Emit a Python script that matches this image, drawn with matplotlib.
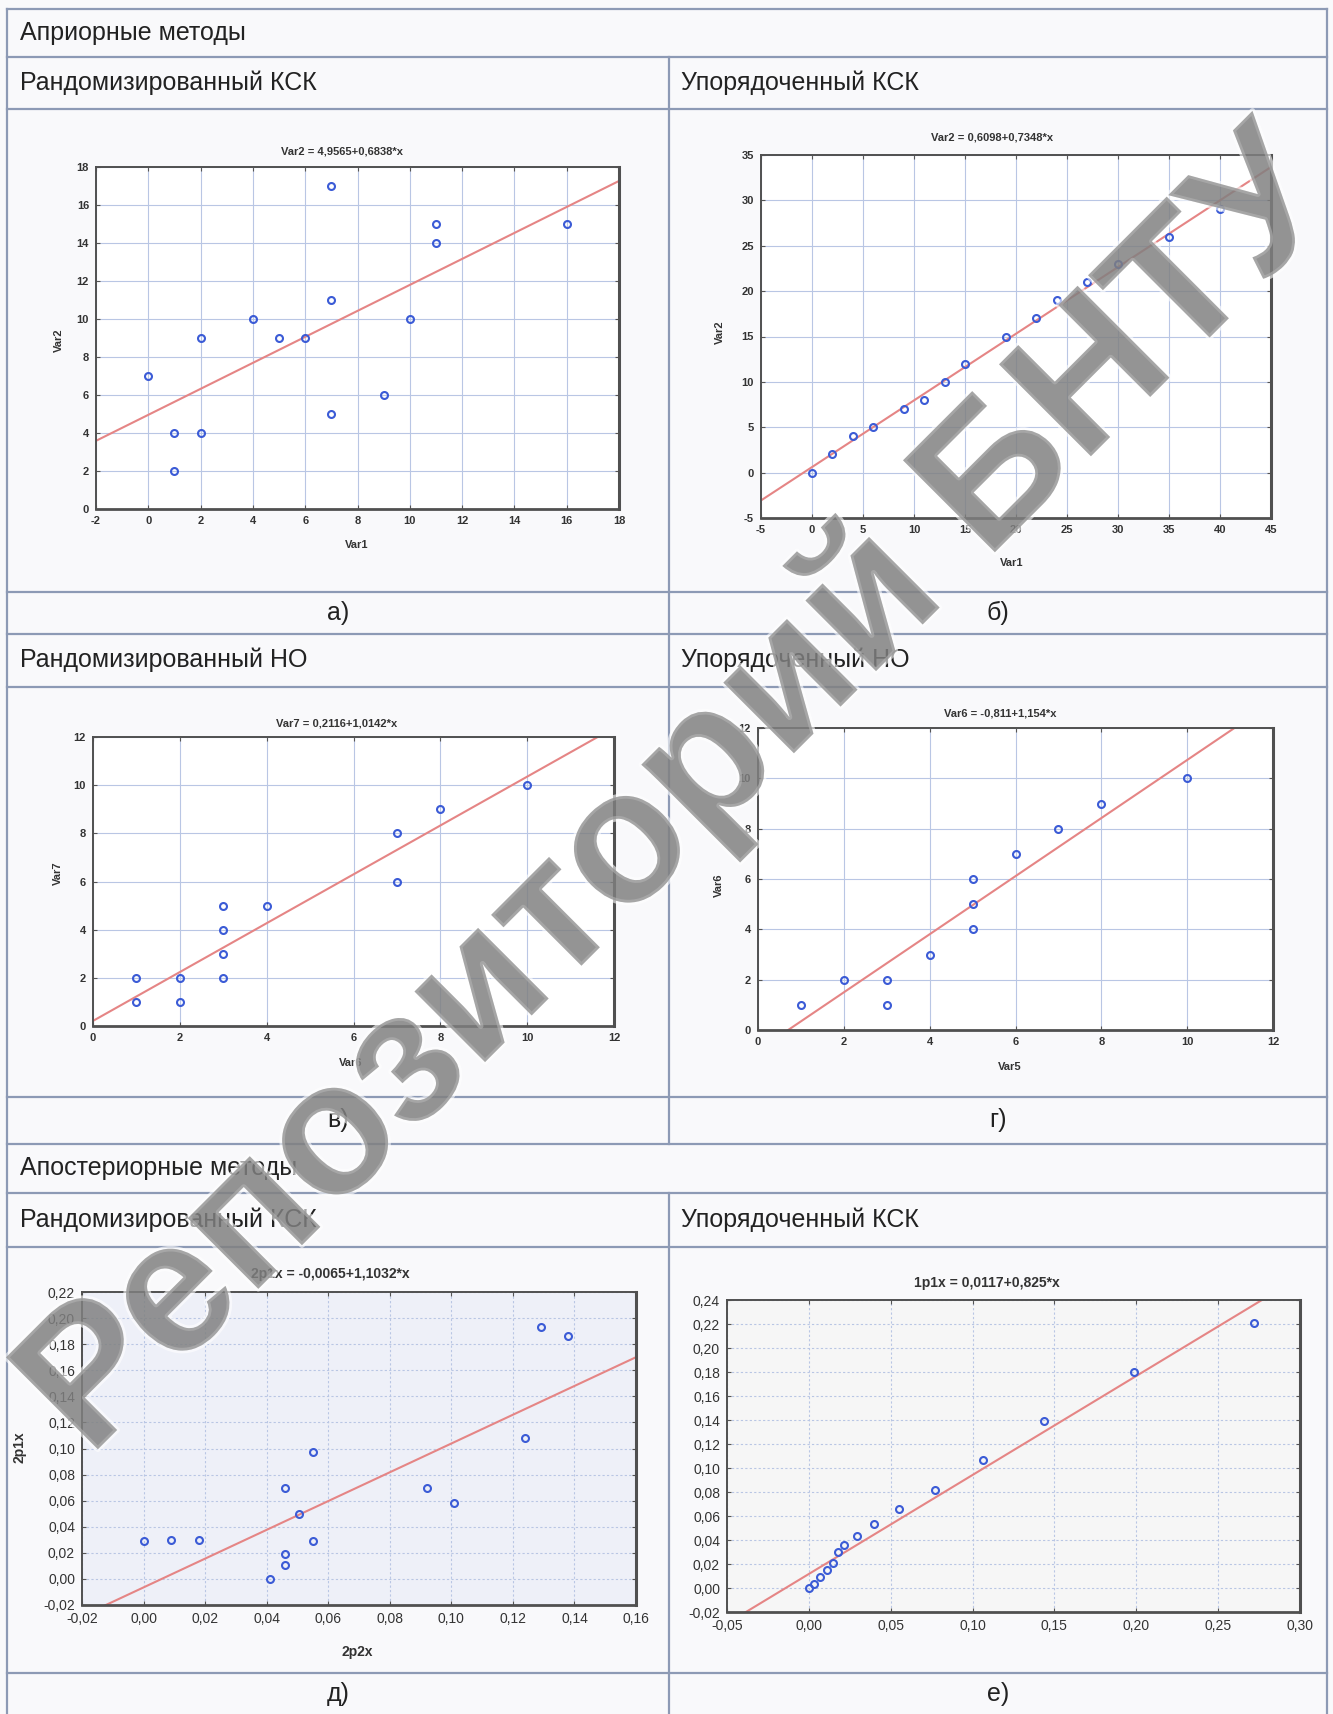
import numpy as np
import matplotlib
matplotlib.use('Agg')
import matplotlib.pyplot as plt
import matplotlib.patheffects as pe
from matplotlib.ticker import FuncFormatter, MultipleLocator

W, H = 1333, 1714

# а) Рандомизированный КСК (априорные)
a_x = [0, 1, 1, 2, 2, 4, 5, 6, 7, 7, 7, 9, 10, 11, 11, 16]
a_y = [7, 4, 2, 9, 4, 10, 9, 9, 17, 11, 5, 6, 10, 15, 14, 15]
a_coef = (4.9565, 0.6838)

# б) Упорядоченный КСК
b_x = [0, 2, 4, 6, 9, 11, 13, 15, 19, 22, 24, 27, 30, 35, 40]
b_y = [0, 2, 4, 5, 7, 8, 10, 12, 15, 17, 19, 21, 23, 26, 29]
b_coef = (0.6098, 0.7348)

# в) Рандомизированный НО
c_x = [1, 1, 2, 2, 3, 3, 3, 3, 4, 7, 7, 8, 10]
c_y = [2, 1, 2, 1, 5, 4, 3, 2, 5, 8, 6, 9, 10]
c_coef = (0.2116, 1.0142)

# г) Упорядоченный НО
d_x = [1, 2, 3, 3, 4, 5, 5, 5, 6, 7, 8, 10]
d_y = [1, 2, 2, 1, 3, 6, 5, 4, 7, 8, 9, 10]
d_coef = (-0.811, 1.154)

# д) Рандомизированный КСК (апостериорные)
e_x = [0.000, 0.009, 0.018, 0.041, 0.046, 0.046, 0.046, 0.0505, 0.055, 0.055,
       0.092, 0.101, 0.124, 0.129, 0.138]
e_y = [0.029, 0.030, 0.030, 0.000, 0.070, 0.019, 0.011, 0.050, 0.097, 0.029,
       0.070, 0.058, 0.108, 0.193, 0.186]
e_coef = (-0.0065, 1.1032)

# е) Упорядоченный КСК
f_x = [0.000, 0.003, 0.0066, 0.011, 0.0146, 0.018, 0.0216, 0.0296, 0.040, 0.055,
       0.077, 0.1065, 0.1435, 0.1987, 0.272]
f_y = [0.000, 0.003, 0.009, 0.015, 0.021, 0.030, 0.036, 0.043, 0.053, 0.066,
       0.082, 0.107, 0.139, 0.180, 0.221]
f_coef = (0.0117, 0.825)

headers_left = ['Рандомизированный КСК', 'Рандомизированный НО', 'Рандомизированный КСК']
headers_right = ['Упорядоченный КСК', 'Упорядоченный НО', 'Упорядоченный КСК']
captions = [('а)', 'б)'), ('в)', 'г)'), ('д)', 'е)')]

plt.rcParams['font.family'] = ['Liberation Sans', 'DejaVu Sans']
plt.rcParams['axes.unicode_minus'] = False

fig = plt.figure(figsize=(W / 100, H / 100), dpi=100)
fig.patch.set_facecolor('#f9f9fb')

LINE = '#8d9ab5'
TXT = '#222222'


def hline(y, x0=7, x1=1327):
    fig.add_artist(plt.Line2D([x0 / W, x1 / W], [1 - y / H, 1 - y / H],
                              color=LINE, lw=1.6))


def vline(x, y0, y1):
    fig.add_artist(plt.Line2D([x / W, x / W], [1 - y0 / H, 1 - y1 / H],
                              color=LINE, lw=1.6))


def ftext(x, y, s, **kw):
    fig.text(x / W, 1 - y / H, s, **kw)


# table grid
for y in [9, 57, 109, 592, 634, 687, 1097, 1144, 1193, 1247, 1673]:
    hline(y)
vline(7, 9, 1714)
vline(1327, 9, 1714)
vline(669, 57, 1144)
vline(669, 1193, 1714)

HF = 18
ftext(20, 33, 'Априорные методы', fontsize=HF, color=TXT, va='center')
ftext(20, 1168, 'Апостериорные методы', fontsize=HF, color=TXT, va='center')
for yy, l, r in zip([83, 660, 1220], headers_left, headers_right):
    ftext(20, yy, l, fontsize=HF, color=TXT, va='center')
    ftext(681, yy, r, fontsize=HF, color=TXT, va='center')
for yy, (l, r) in zip([613, 1120, 1694], captions):
    ftext(338, yy, l, fontsize=HF, color=TXT, va='center', ha='center')
    ftext(998, yy, r, fontsize=HF, color=TXT, va='center', ha='center')


def comma_fmt(nd):
    return FuncFormatter(lambda v, p: ('%.*f' % (nd, v)).replace('.', ','))


def panel(box, x, y, coef, xlim, ylim, sx, sy, title, tpos, xlabel=None, xlpos=None,
          ylabel=None, ylpos=None, nd=0, fs=8, dotted=False, face='white'):
    l, t, r, b = box
    ax = fig.add_axes([l / W, 1 - b / H, (r - l) / W, (b - t) / H])
    ax.set_facecolor(face)
    gls = (0, (2, 2)) if dotted else '-'
    ax.grid(True, color='#b9c6e4', lw=0.8, ls=gls, zorder=0)
    xs = np.array(xlim, dtype=float)
    ax.plot(xs, coef[0] + coef[1] * xs, color='#e58585', lw=1.5, zorder=2)
    ax.plot(x, y, 'o', mfc='none', mec='#3b5bd6', ms=5, mew=1.5, zorder=3)
    ax.set_xlim(xlim)
    ax.set_ylim(ylim)
    ax.xaxis.set_major_locator(MultipleLocator(sx))
    ax.yaxis.set_major_locator(MultipleLocator(sy))
    if nd:
        ax.xaxis.set_major_formatter(comma_fmt(nd))
        ax.yaxis.set_major_formatter(comma_fmt(nd))
    ax.tick_params(direction='in', length=3, width=0.8, labelsize=fs,
                   labelcolor='#333333', color='#555555', top=True, right=True, pad=5)
    wt = 'normal' if nd else 'bold'
    for lab in ax.get_xticklabels() + ax.get_yticklabels():
        lab.set_fontweight(wt)
    for s in ax.spines.values():
        s.set_color('#505050')
        s.set_linewidth(1.4)
    ax.spines['right'].set_linewidth(2.2)
    ax.spines['bottom'].set_linewidth(2.0)
    ftext(tpos[0], tpos[1], title, fontsize=fs, fontweight='bold', color='#333333',
          ha='center', va='center')
    if xlabel:
        ax.set_xlabel(xlabel, fontsize=fs, fontweight='bold', color='#333333')
        ax.xaxis.set_label_coords((xlpos[0] - l) / (r - l), (b - xlpos[1]) / (b - t))
    if ylabel:
        ax.set_ylabel(ylabel, fontsize=fs, fontweight='bold', color='#333333')
        ax.yaxis.set_label_coords((ylpos[0] - l) / (r - l), (b - ylpos[1]) / (b - t))
    return ax


panel((96, 167, 619, 509), a_x, a_y, a_coef, (-2, 18), (0, 18), 2, 2,
      'Var2 = 4,9565+0,6838*x', (342, 151), 'Var1', (357, 540), 'Var2', (64, 340))
panel((761, 155, 1271, 518), b_x, b_y, b_coef, (-5, 45), (-5, 35), 5, 5,
      'Var2 = 0,6098+0,7348*x', (992, 137), 'Var1', (1012, 558), 'Var2', (725, 332))
panel((93, 737, 614, 1026), c_x, c_y, c_coef, (0, 12), (0, 12), 2, 2,
      'Var7 = 0,2116+1,0142*x', (337, 723), 'Var6', (351, 1058), 'Var7', (63, 873))
panel((758, 728, 1273, 1030), d_x, d_y, d_coef, (0, 12), (0, 12), 2, 2,
      'Var6 = -0,811+1,154*x', (1000, 714), 'Var5', (1010, 1062), 'Var6', (724, 885))
panel((82, 1292, 636, 1605), e_x, e_y, e_coef, (-0.02, 0.16), (-0.02, 0.22), 0.02, 0.02,
      '2p1x = -0,0065+1,1032*x', (330, 1274), '2p2x', (357, 1645), '2p1x', (26, 1447),
      nd=2, fs=10, dotted=True, face='#eef0f8')
panel((727, 1300, 1300, 1612), f_x, f_y, f_coef, (-0.05, 0.30), (-0.02, 0.24), 0.05, 0.02,
      '1p1x = 0,0117+0,825*x', (987, 1283), nd=2, fs=10, dotted=True, face='#f6f6f6')

# watermark of the repository
fig.text(680 / W, 1 - 795 / H, 'Репозиторий БНТУ', fontsize=136, fontweight='bold',
         color='#808080', alpha=0.6, rotation=45, ha='center', va='center',
         rotation_mode='anchor', zorder=20,
         path_effects=[pe.withStroke(linewidth=4, foreground='white')])

fig.savefig('out.png', dpi=100, facecolor=fig.get_facecolor())
